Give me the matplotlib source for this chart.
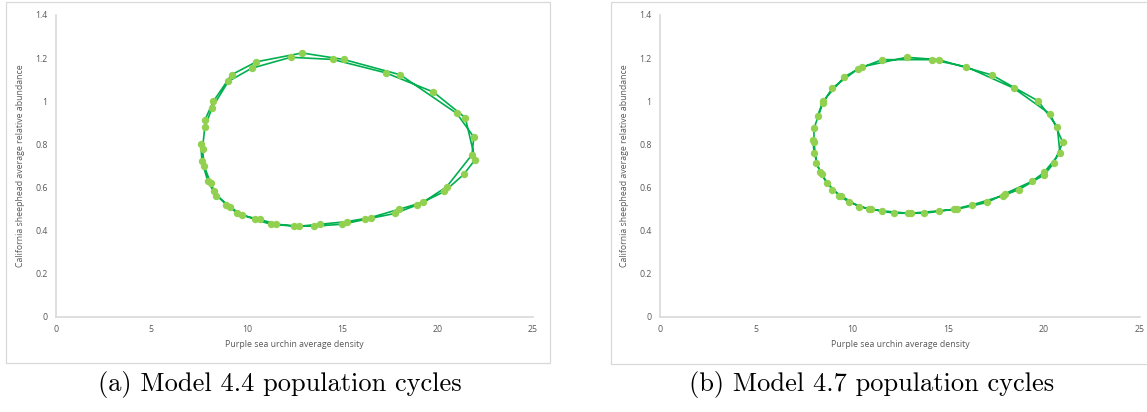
import matplotlib
matplotlib.use("Agg")
import matplotlib.pyplot as plt
from matplotlib.patches import Rectangle

# points, listed counterclockwise around each loop
urchin_44 = [7.59, 7.68, 7.65, 7.76, 7.95, 8.10, 8.26, 8.41, 8.92, 9.12,
             9.48, 9.74, 10.43, 10.70, 11.26, 11.54, 12.49, 12.75, 13.54, 13.84,
             15.00, 15.24, 16.19, 16.49, 17.76, 18.00, 18.94, 19.24, 20.36, 20.47,
             21.37, 21.80, 21.97, 21.90, 21.45, 21.00, 19.78, 18.04, 17.28, 15.07,
             14.50, 12.90, 12.30, 10.50, 10.25, 9.20, 9.03, 8.25, 8.19, 7.80, 7.80]
sheep_44 = [0.801, 0.781, 0.722, 0.701, 0.631, 0.622, 0.582, 0.562, 0.520, 0.512,
            0.483, 0.472, 0.452, 0.452, 0.430, 0.430, 0.421, 0.421, 0.421, 0.430,
            0.430, 0.442, 0.452, 0.461, 0.480, 0.500, 0.520, 0.532, 0.582, 0.603,
            0.661, 0.752, 0.730, 0.834, 0.924, 0.944, 1.043, 1.123, 1.132, 1.194,
            1.194, 1.224, 1.204, 1.183, 1.153, 1.123, 1.092, 1.000, 0.971, 0.913, 0.882]

urchin_47 = [7.95, 8.02, 8.04, 8.14, 8.33, 8.42, 8.69, 8.97, 9.33, 9.44,
             9.86, 10.34, 10.87, 11.00, 11.57, 12.20, 12.92, 13.05, 13.77, 14.53,
             15.33, 15.48, 16.26, 17.03, 17.85, 17.98, 18.70, 19.40, 20.01, 20.01,
             20.50, 20.83, 20.98, 20.69, 20.33, 19.69, 18.42, 17.28, 15.95, 14.51,
             14.15, 12.84, 11.57, 10.53, 10.32, 9.60, 8.97, 8.50, 8.48, 8.21, 8.02]
sheep_47 = [0.821, 0.812, 0.760, 0.712, 0.671, 0.661, 0.622, 0.591, 0.562, 0.562,
            0.532, 0.512, 0.500, 0.500, 0.492, 0.481, 0.481, 0.481, 0.481, 0.492,
            0.500, 0.500, 0.520, 0.531, 0.562, 0.572, 0.591, 0.630, 0.659, 0.671,
            0.712, 0.760, 0.809, 0.882, 0.940, 1.002, 1.061, 1.122, 1.160, 1.193,
            1.193, 1.204, 1.193, 1.160, 1.151, 1.113, 1.061, 1.002, 0.992, 0.933, 0.874]

x_ticks = [0, 5, 10, 15, 20, 25]
y_ticks = [0, 0.2, 0.4, 0.6, 0.8, 1, 1.2, 1.4]
x_label = 'Purple sea urchin average density'
y_label = 'California sheephead average relative abundance'
captions = ['(a) Model 4.4 population cycles', '(b) Model 4.7 population cycles']

W, H = 1147, 412
fig = plt.figure(figsize=(W / 100, H / 100), dpi=100)

grey_txt = '#595959'
grey_line = '#d9d9d9'


def px_box(x0, y0, x1, y1):
    # pixel box (top-left origin) -> figure fraction rect
    return [x0 / W, 1 - y1 / H, (x1 - x0) / W, (y1 - y0) / H]


def draw_panel(box, ax_rect, xs, ys, caption, cap_x):
    fig.add_artist(Rectangle(box[:2], box[2], box[3], transform=fig.transFigure,
                             fill=False, edgecolor=grey_line, linewidth=0.9))
    ax = fig.add_axes(ax_rect)
    # the loop is traced twice: every other point, then the ones in between
    px = xs[0::2] + xs[1::2]
    py = ys[0::2] + ys[1::2]
    ax.plot(px, py, color='#00b050', linewidth=1.2, zorder=2)
    ax.plot(xs, ys, linestyle='none', marker='o', markersize=4.3,
            markerfacecolor='#92d050', markeredgecolor='#92d050', zorder=3)
    ax.set_xlim(0, 25)
    ax.set_ylim(0, 1.4)
    ax.set_xticks(x_ticks)
    ax.set_yticks(y_ticks)
    ax.set_xticklabels([str(t) for t in x_ticks])
    ax.set_yticklabels(['0', '0.2', '0.4', '0.6', '0.8', '1', '1.2', '1.4'])
    for s in ('top', 'right'):
        ax.spines[s].set_visible(False)
    for s in ('left', 'bottom'):
        ax.spines[s].set_color(grey_line)
        ax.spines[s].set_linewidth(1.2)
    ax.tick_params(length=0, labelsize=6.3, labelcolor=grey_txt, pad=6)
    for lab in ax.get_xticklabels() + ax.get_yticklabels():
        lab.set_family('Open Sans')
    ax.set_xlabel(x_label, fontsize=6.3, color=grey_txt, family='Open Sans', labelpad=4)
    ax.set_ylabel(y_label, fontsize=6.3, color=grey_txt, family='Open Sans', labelpad=7)
    fig.text(cap_x / W, 1 - 385 / H, caption, ha='center', va='center',
             fontsize=19, family='cmr10')
    return ax


draw_panel(px_box(6, 2, 550, 363), [56 / W, 1 - 317 / H, (533 - 56) / W, 302 / H],
           urchin_44, sheep_44, captions[0], 280)
draw_panel(px_box(611, 2, 1152, 364), [660 / W, 1 - 317 / H, (1140 - 660) / W, 302 / H],
           urchin_47, sheep_47, captions[1], 872)

fig.savefig('out.png', dpi=100)
